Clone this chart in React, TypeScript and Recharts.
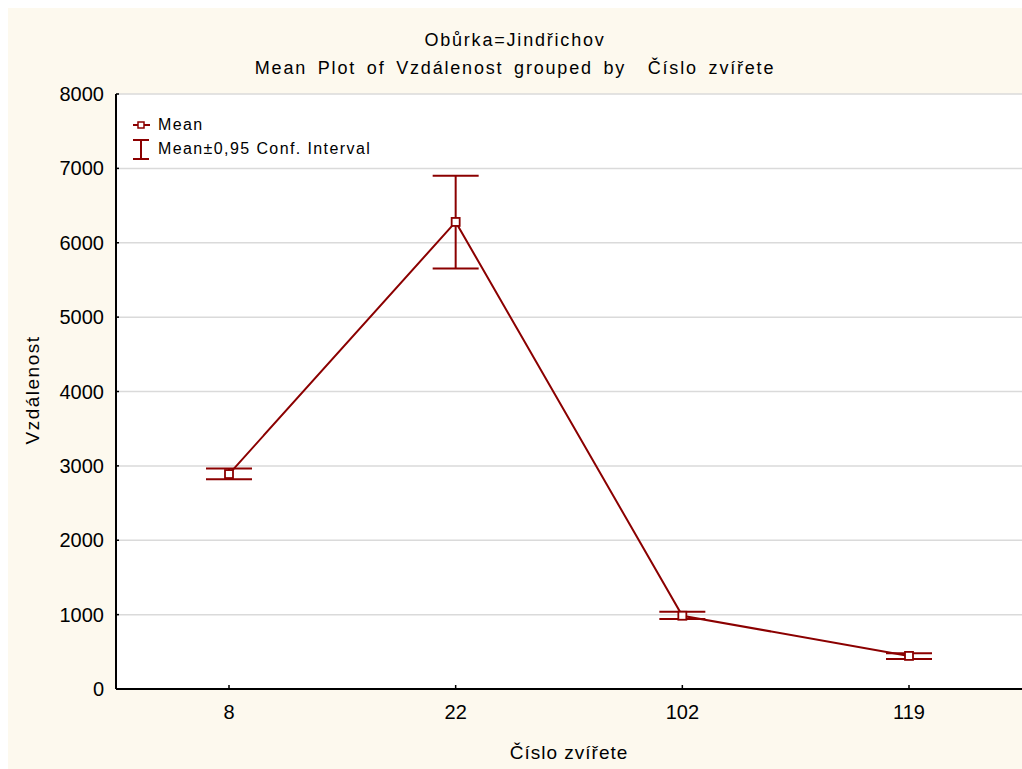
import {
  CartesianGrid,
  ErrorBar,
  Line,
  LineChart,
  XAxis,
  YAxis,
} from "recharts";

const animals = ["8", "22", "102", "119"];
const means = [2890, 6280, 985, 445];
const lowerCI = [2820, 5655, 940, 405];
const upperCI = [2965, 6900, 1040, 480];
const yTicks = [0, 1000, 2000, 3000, 4000, 5000, 6000, 7000, 8000];

const RED = "#8B0000";
const CREAM = "#FDF9EE";
const FONT = "'Liberation Sans', Arial, sans-serif";

const data = animals.map((animal, i) => ({
  animal,
  mean: means[i],
  ci: [means[i] - lowerCI[i], upperCI[i] - means[i]],
}));

function SquareDot(props: any) {
  const { cx, cy } = props;
  if (cx == null || cy == null) return null;
  return (
    <rect x={cx - 4} y={cy - 4} width={8} height={8} fill="#fff" stroke={RED} strokeWidth={1.8} />
  );
}

function XTick(props: any) {
  const { x, y, payload } = props;
  return (
    <g>
      <line x1={x} y1={y} x2={x} y2={y - 4} stroke="#000" strokeWidth={1.5} />
      <text x={x} y={y + 23} dy="0.355em" textAnchor="middle" fontSize={20} fill="#000" fontFamily={FONT}>
        {payload.value}
      </text>
    </g>
  );
}

function TopTick(props: any) {
  const { x, y } = props;
  return <line x1={x} y1={y} x2={x} y2={y + 4} stroke="#000" strokeWidth={1.5} />;
}

function YTick(props: any) {
  const { x, y, payload } = props;
  return (
    <g>
      <line x1={x} y1={y} x2={x + 3} y2={y} stroke="#000" strokeWidth={1.5} />
      <text x={x - 12} y={y} dy="0.355em" textAnchor="end" fontSize={20} fill="#000" fontFamily={FONT}>
        {payload.value}
      </text>
    </g>
  );
}

function LegendBox() {
  return (
    <div
      style={{
        position: "absolute",
        left: 125,
        top: 105,
        fontSize: 16,
        letterSpacing: 1.4,
        color: "#000",
        lineHeight: "24px",
      }}
    >
      <div style={{ display: "flex", alignItems: "center" }}>
        <svg width={25} height={24}>
          <line x1={0} y1={12} x2={17} y2={12} stroke={RED} strokeWidth={2} />
          <rect x={5} y={9} width={6} height={6} fill="#fff" stroke={RED} strokeWidth={1.5} />
        </svg>
        <span>Mean</span>
      </div>
      <div style={{ display: "flex", alignItems: "center" }}>
        <svg width={25} height={24}>
          <line x1={0} y1={3} x2={16} y2={3} stroke={RED} strokeWidth={2} />
          <line x1={8} y1={3} x2={8} y2={22} stroke={RED} strokeWidth={2} />
          <line x1={0} y1={22} x2={16} y2={22} stroke={RED} strokeWidth={2} />
        </svg>
        <span>Mean±0,95 Conf. Interval</span>
      </div>
    </div>
  );
}

export default function App() {
  return (
    <div
      style={{
        position: "fixed",
        left: 8,
        top: 8,
        right: 0,
        bottom: 0,
        background: CREAM,
        fontFamily: FONT,
        color: "#000",
      }}
    >
      <div style={{ position: "absolute", left: 0, width: 1014, top: 20, textAlign: "center", fontSize: 18, letterSpacing: 1.8, lineHeight: "24px" }}>
        Obůrka=Jindřichov
      </div>
      <div style={{ position: "absolute", left: 0, width: 1014, top: 48, textAlign: "center", fontSize: 18, letterSpacing: 1.8, wordSpacing: 4, lineHeight: "24px" }}>
        Mean Plot of Vzdálenost grouped by&nbsp;&nbsp;Číslo zvířete
      </div>
      <div
        style={{
          position: "absolute",
          left: 25,
          top: 382,
          transform: "translate(-50%, -50%) rotate(-90deg)",
          fontSize: 19,
          letterSpacing: 1.5,
          whiteSpace: "nowrap",
        }}
      >
        Vzdálenost
      </div>
      <div style={{ position: "absolute", left: 108, width: 906, top: 733, textAlign: "center", fontSize: 19, letterSpacing: 1, lineHeight: "24px" }}>
        Číslo zvířete
      </div>
      <LineChart
        width={1014}
        height={761}
        data={data}
        margin={{ top: 86, right: 0, bottom: 0, left: 0 }}
        style={{ position: "absolute", left: 0, top: 0 }}
      >
        <CartesianGrid vertical={false} stroke="#DADADA" strokeWidth={1.5} fill="#fff" />
        <XAxis
          xAxisId="top"
          orientation="top"
          dataKey="animal"
          padding={{ left: 113, right: 113 }}
          height={0}
          tickSize={0}
          tickMargin={0}
          tickLine={false}
          axisLine={{ stroke: "#000", strokeWidth: 2 }}
          tick={<TopTick />}
        />
        <XAxis
          dataKey="animal"
          padding={{ left: 113, right: 113 }}
          height={80}
          tickSize={0}
          tickMargin={0}
          tickLine={false}
          axisLine={{ stroke: "#000", strokeWidth: 2 }}
          tick={<XTick />}
        />
        <YAxis
          domain={[0, 8000]}
          ticks={yTicks}
          width={108}
          tickSize={0}
          tickMargin={0}
          tickLine={false}
          interval={0}
          axisLine={{ stroke: "#000", strokeWidth: 2 }}
          tick={<YTick />}
        />
        <Line
          dataKey="mean"
          name="Mean"
          stroke={RED}
          strokeWidth={2}
          dot={<SquareDot />}
          activeDot={false}
          isAnimationActive={false}
        >
          <ErrorBar dataKey="ci" width={23} stroke={RED} strokeWidth={2} direction="y" />
        </Line>
      </LineChart>
      <LegendBox />
    </div>
  );
}
